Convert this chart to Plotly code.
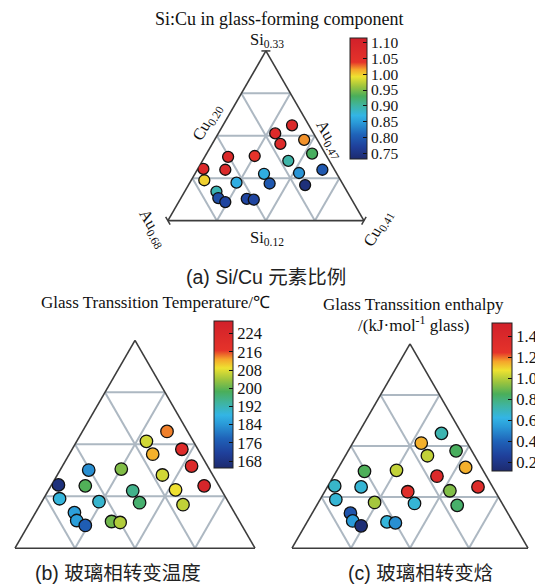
import math
import plotly.graph_objects as go

# ---------------- data (compositions, atomic fraction) ----------------
si = [0.238, 0.228, 0.215, 0.220, 0.203, 0.194, 0.183, 0.179, 0.164, 0.199, 0.200,
      0.184, 0.183, 0.170, 0.178, 0.167, 0.166, 0.156, 0.148, 0.143, 0.147, 0.146]
cu = [0.274, 0.261, 0.273, 0.296, 0.313, 0.292, 0.334, 0.311, 0.325, 0.225, 0.253,
      0.206, 0.230, 0.214, 0.274, 0.250, 0.286, 0.234, 0.240, 0.250, 0.271, 0.279]
au = [round(1 - s - c, 3) for s, c in zip(si, cu)]

si_cu_ratio = [1.08, 1.07, 1.07, 1.02, 0.93, 0.90, 0.80, 0.845, 0.745, 1.08, 1.04,
               1.08, 1.08, 1.00, 0.865, 0.865, 0.80, 0.895, 0.79, 0.78, 0.78, 0.78]
tg_temp = [214, 207, 212, 222, 223, 207, 226, 209, 206, 183, 202,
           167, 199, 189, 195, 190, 197, 185, 185, 177, 201, 205]
tg_enthalpy = [0.72, 1.15, 1.02, 0.85, 1.15, 1.38, 1.35, 0.93, 0.83, 0.86, 1.02,
               0.68, 0.66, 0.66, 1.33, 0.98, 0.66, 0.35, 0.55, 0.15, 0.65, 0.52]

ticks_a = [0.75, 0.80, 0.85, 0.90, 0.95, 1.00, 1.05, 1.10]
ticks_b = [168, 176, 184, 192, 200, 208, 216, 224]
ticks_c = [0.2, 0.4, 0.6, 0.8, 1.0, 1.2, 1.4]

si_min, au_min, cu_min = 0.12, 0.47, 0.20
span = 0.21

# ---------------- styling ----------------
OFF = 8                      # default page margin of the html body
W, H = 543 - OFF, 587 - OFF  # figure size inside the page
SERIF = "Liberation Serif, Times New Roman, serif"
SANS = "Liberation Sans, Noto Sans CJK SC, sans-serif"

colorscale = [
    [0.00, "#1d2a6e"], [0.10, "#1f3f9a"], [0.20, "#1f62b8"], [0.30, "#2a9ad8"],
    [0.36, "#33b5e5"], [0.44, "#3fb4a2"], [0.52, "#4aae5a"], [0.60, "#9cc43e"],
    [0.68, "#eee231"], [0.74, "#f5a52b"], [0.80, "#e5332a"], [1.00, "#d1202a"],
]


def px(x):
    return (x - OFF) / W


def py(y):
    return 1 - (y - OFF) / H


def dom(cx, cy, w):
    h = w * math.sqrt(3) / 2
    return dict(x=[px(cx - w / 2), px(cx + w / 2)],
                y=[py(cy + h / 2), py(cy - h / 2)])


def axis(m):
    return dict(min=m, showticklabels=False, ticks="", showgrid=True,
                gridcolor="#adb8c2", gridwidth=1.5, showline=True,
                linecolor="#3c3c3c", linewidth=1.6, tickmode="array",
                tickvals=[m + span * k / 4 for k in (1, 2, 3)],
                title=dict(text=""), layer="below traces")


def tern(cx, cy, w):
    return dict(sum=1, domain=dom(cx, cy, w), bgcolor="white",
                aaxis=axis(si_min), baxis=axis(au_min), caxis=axis(cu_min))


def cbar(x0, ytop, length, thick, tickvals, fmt, fsize):
    return dict(x=px(x0), xanchor="left", xpad=0, y=py(ytop), yanchor="top",
                ypad=0, len=length, lenmode="pixels", thickness=thick,
                thicknessmode="pixels", outlinecolor="#222", outlinewidth=1,
                ticks="inside", ticklen=4, tickcolor="#111", tickwidth=1.2,
                tickvals=tickvals, tickformat=fmt,
                tickfont=dict(family=SERIF, size=fsize, color="#111"))


TA = (265.9, 135.8, 196)   # centre x, centre y, width of triangle (a)

fig = go.Figure()
for vals, sub, cax, size in [(si_cu_ratio, "ternary", "coloraxis", 11),
                             (tg_temp, "ternary2", "coloraxis2", 12.5),
                             (tg_enthalpy, "ternary3", "coloraxis3", 12.5)]:
    fig.add_trace(go.Scatterternary(
        a=si, b=au, c=cu, mode="markers", subplot=sub, showlegend=False,
        marker=dict(color=vals, coloraxis=cax, size=size,
                    line=dict(color="#111", width=1.3))))

fig.update_layout(
    width=W, height=H, margin=dict(l=0, r=0, t=0, b=0),
    paper_bgcolor="white", template="none",
    ternary=tern(*TA),
    ternary2=tern(135, 444.3, 240),
    ternary3=tern(410, 446, 236),
    coloraxis=dict(cmin=0.735, cmax=1.115, colorscale=colorscale,
                   colorbar=cbar(349.5, 37.5, 121, 16.5, ticks_a, ".2f", 15.5)),
    coloraxis2=dict(cmin=165, cmax=229.5, colorscale=colorscale,
                    colorbar=cbar(213.5, 321, 147, 19, ticks_b, "d", 16.5)),
    coloraxis3=dict(cmin=0.125, cmax=1.53, colorscale=colorscale,
                    colorbar=cbar(491.5, 322.5, 148, 20, ticks_c, ".1f", 16.5)),
)

# small end ticks at the three corners of triangle (a)
cx, cy, w = TA
h = w * math.sqrt(3) / 2
corners = [((cx, cy - h / 2), (1, 0)),
           ((cx - w / 2, cy + h / 2), (0.5, 0.866)),
           ((cx + w / 2, cy + h / 2), (0.5, -0.866))]
for (x0, y0), (dx, dy) in corners:
    L = 4.5
    fig.add_shape(type="line", xref="paper", yref="paper",
                  x0=px(x0 - L * dx), y0=py(y0 - L * dy),
                  x1=px(x0 + L * dx), y1=py(y0 + L * dy),
                  line=dict(color="#3c3c3c", width=1.5))


def ann(text, x, y, size, family=SERIF, angle=0, color="#111"):
    fig.add_annotation(text=text, x=px(x), y=py(y), xref="paper", yref="paper",
                       showarrow=False, textangle=angle, xanchor="center",
                       yanchor="middle", font=dict(family=family, size=size, color=color))


ann("Si:Cu in glass-forming component", 279, 19, 18)
ann("Si<sub>0.33</sub>", 267, 40, 16.5)
ann("Si<sub>0.12</sub>", 267, 238, 16.5)
ann("Cu<sub>0.20</sub>", 207, 122, 16.5, angle=-60)
ann("Au<sub>0.47</sub>", 330, 139, 16.5, angle=60)
ann("Au<sub>0.68</sub>", 153, 228, 16.5, angle=60)
ann("Cu<sub>0.41</sub>", 378, 228, 16.5, angle=-60)

ann("Glass Transsition Temperature/℃", 155, 302, 17)
ann("Glass Transsition enthalpy", 413, 304, 17)
ann("/(kJ·mol<sup>-1</sup> glass)", 413, 324, 17)

ann("(a) Si/Cu 元素比例", 266, 277, 19.5, family=SANS, color="#222")
ann("(b) 玻璃相转变温度", 118, 573, 19.5, family=SANS, color="#222")
ann("(c) 玻璃相转变焓", 420, 573, 19.5, family=SANS, color="#222")

fig.write_html("out.html")
